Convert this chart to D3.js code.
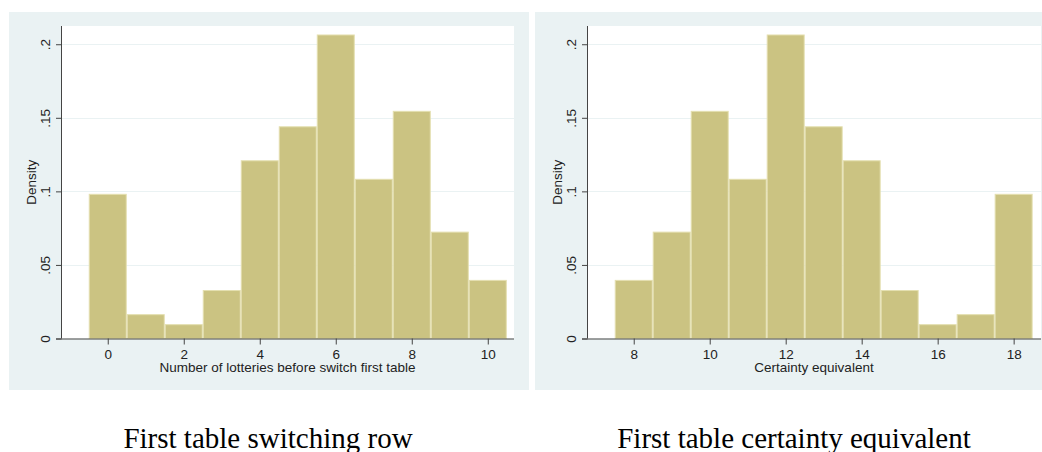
<!DOCTYPE html>
<html>
<head>
<meta charset="utf-8">
<script src="https://cdn.jsdelivr.net/npm/d3@7"></script>
<style>
  body { margin: 0; background: #fff; }
  svg { display: block; }
  .tick text { font-family: Arial, "Liberation Sans", sans-serif; }
</style>
</head>
<body>
<div id="viz"></div>
<script>
// ====================
// DATA
// ====================
const rowBins = [0, 1, 2, 3, 4, 5, 6, 7, 8, 9, 10];
const rowDensity = [0.098, 0.0162, 0.0094, 0.0326, 0.1208, 0.1439, 0.2063, 0.1082, 0.1544, 0.0723, 0.0395];
const rowTicks = [0, 2, 4, 6, 8, 10];

const ceBins = [8, 9, 10, 11, 12, 13, 14, 15, 16, 17, 18];
const ceDensity = [0.0395, 0.0723, 0.1544, 0.1082, 0.2063, 0.1439, 0.1208, 0.0326, 0.0094, 0.0162, 0.098];
const ceTicks = [8, 10, 12, 14, 16, 18];

const yTicks = [0, 0.05, 0.1, 0.15, 0.2];
const yTickLabels = ['0', '.05', '.1', '.15', '.2'];

// ====================
// SETUP
// ====================
const width = 1042;
const height = 452;
const panelW = 520, panelH = 378;
const fontSans = 'Arial, "Liberation Sans", sans-serif';
const textSize = 13.5;

const svg = d3.select('#viz').append('svg')
  .attr('width', width)
  .attr('height', height);

// plot rectangles are in panel coordinates
const panels = [
  { x: 9, plotL: 52, plotR: 505, bins: rowBins, dens: rowDensity, ticks: rowTicks, domain: [-1.23, 10.69],
    xTitle: 'Number of lotteries before switch first table', caption: 'First table switching row' },
  { x: 535, plotL: 52, plotR: 506, bins: ceBins, dens: ceDensity, ticks: ceTicks, domain: [6.77, 18.72],
    xTitle: 'Certainty equivalent', caption: 'First table certainty equivalent' }
];

panels.forEach(drawPanel);

function drawPanel(p) {
  const g = svg.append('g').attr('transform', `translate(${p.x},12)`);

  // graph region
  g.append('rect')
    .attr('width', panelW).attr('height', panelH)
    .attr('fill', '#eaf2f3');

  const x0 = p.plotL, x1 = p.plotR;
  const y0 = 326.5, y1 = 14;

  // plot region
  g.append('rect')
    .attr('x', x0).attr('y', y1)
    .attr('width', x1 - x0).attr('height', y0 - y1)
    .attr('fill', '#fff');

  const x = d3.scaleLinear().domain(p.domain).range([x0, x1]);
  const y = d3.scaleLinear().domain([0, 0.2124]).range([y0, y1]);

  // gridlines
  g.append('g').selectAll('line')
    .data(yTicks.slice(1))
    .join('line')
    .attr('x1', x0).attr('x2', x1)
    .attr('y1', d => Math.round(y(d)) + 0.5).attr('y2', d => Math.round(y(d)) + 0.5)
    .attr('stroke', '#eaf2f3').attr('stroke-width', 1.2);

  // bars
  g.append('g').selectAll('rect')
    .data(p.bins.map((b, i) => ({ b, d: p.dens[i] })))
    .join('rect')
    .attr('x', d => x(d.b - 0.5) + 0.5)
    .attr('width', d => x(d.b + 0.5) - x(d.b - 0.5) - 1)
    .attr('y', d => y(d.d))
    .attr('height', d => y0 - y(d.d))
    .attr('fill', '#cbc382')
    .attr('stroke', '#e4dfb0')
    .attr('stroke-width', 1);

  // y axis
  const yAxis = d3.axisLeft(y)
    .tickValues(yTicks)
    .tickFormat((d, i) => yTickLabels[i])
    .tickSize(5);
  const ya = g.append('g').attr('transform', `translate(${x0},0)`).call(yAxis);
  ya.select('.domain').attr('stroke', '#444').attr('d', `M0.5,${y0}V${y1}`);
  ya.selectAll('.tick line').attr('stroke', '#444').attr('x1', 0.5);
  ya.selectAll('.tick text')
    .attr('font-size', textSize).attr('fill', '#222')
    .attr('transform', 'rotate(-90)')
    .attr('x', 0).attr('y', -11)
    .attr('dy', 0)
    .attr('text-anchor', 'middle');

  // x axis
  const xAxis = d3.axisBottom(x)
    .tickValues(p.ticks)
    .tickSize(6)
    .tickPadding(5);
  const xa = g.append('g').attr('transform', `translate(0,${y0})`).call(xAxis);
  xa.select('.domain').attr('stroke', '#444').attr('d', `M${x0 - 5},0.5H${x1}`);
  xa.selectAll('.tick line').attr('stroke', '#444');
  xa.selectAll('.tick text').attr('font-size', textSize).attr('fill', '#222');

  // axis titles
  g.append('text')
    .attr('x', (x0 + x1) / 2).attr('y', y0 + 33)
    .attr('text-anchor', 'middle')
    .attr('font-family', fontSans)
    .attr('font-size', textSize).attr('fill', '#222')
    .text(p.xTitle);

  g.append('text')
    .attr('transform', `translate(${x0 - 25.5},${(y0 + y1) / 2}) rotate(-90)`)
    .attr('text-anchor', 'middle')
    .attr('font-family', fontSans)
    .attr('font-size', textSize).attr('fill', '#222')
    .text('Density');

  // caption under the panel
  svg.append('text')
    .attr('x', p.x + panelW / 2 - 1).attr('y', 448)
    .attr('text-anchor', 'middle')
    .attr('font-family', '"Liberation Serif", "Times New Roman", serif')
    .attr('font-size', 29).attr('fill', '#000')
    .text(p.caption);
}
</script>
</body>
</html>
